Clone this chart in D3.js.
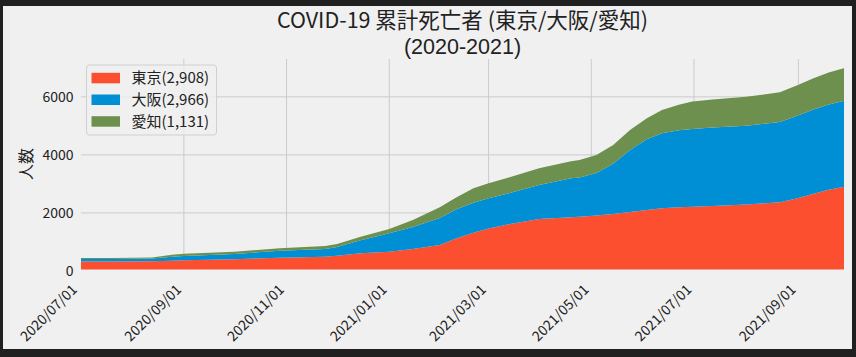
<!DOCTYPE html>
<html><head><meta charset="utf-8">
<script src="https://cdn.jsdelivr.net/npm/d3@7"></script>
<style>
html,body{margin:0;padding:0;background:#202020;}
svg{display:block;}
text{font-family:"Noto Sans CJK JP","Noto Sans",sans-serif;}
</style></head><body>
<svg id="chart" width="856" height="357"></svg>
<script>
// ---- data (cumulative deaths) ----
const dates = ["2020-07-01","2020-07-20","2020-08-13","2020-08-25","2020-09-01","2020-10-01","2020-10-28","2020-11-24","2020-12-01","2020-12-15","2021-01-01","2021-01-15","2021-01-31","2021-02-10","2021-02-20","2021-03-01","2021-03-13","2021-03-31","2021-04-19","2021-04-24","2021-05-04","2021-05-14","2021-05-24","2021-06-03","2021-06-12","2021-06-22","2021-06-30","2021-07-12","2021-08-01","2021-08-21","2021-08-31","2021-09-10","2021-09-19","2021-09-29"];
const tokyo = [325,327,335,355,370,405,458,493,525,609,665,758,896,1126,1320,1465,1610,1795,1855,1871,1915,1964,2030,2101,2160,2195,2215,2240,2290,2370,2500,2665,2800,2908];
const osaka = [86,86,95,135,145,180,241,265,300,448,632,759,928,1000,1033,1040,1067,1168,1338,1353,1460,1727,2137,2440,2586,2650,2680,2700,2715,2760,2840,2895,2935,2966];
const aichi = [34,35,36,68,75,78,83,103,105,125,150,240,370,413,496,517,545,575,590,600,620,650,690,720,800,880,945,965,1000,1025,1050,1080,1105,1131];
const seriesNames = ["東京","大阪","愛知"];
const seriesColors = ["#fc4f30","#008fd5","#6d904f"];
const xTickDates = ["2020-07-01","2020-09-01","2020-11-01","2021-01-01","2021-03-01","2021-05-01","2021-07-01","2021-09-01"];
const yTicks = [0,2000,4000,6000];
const titleLines = ["COVID-19 累計死亡者 (東京/大阪/愛知)","(2020-2021)"];
const yLabel = "人数";

// ---- layout ----
const W = 856, H = 357;
const L = 79.5, R = 845.5, T = 57.5, B = 271;
const parse = d3.timeParse("%Y-%m-%d");
const fmtTick = d3.timeFormat("%Y/%m/%d");

const rows = dates.map((d,i)=>({date:parse(d), "東京":tokyo[i], "大阪":osaka[i], "愛知":aichi[i]}));
const stack = d3.stack().keys(seriesNames)(rows);
const ymax = d3.max(stack[stack.length-1], d=>d[1]) * 1.05;

const x = d3.scaleTime().domain(d3.extent(rows, d=>d.date)).range([L, R]);
const y = d3.scaleLinear().domain([0, ymax]).range([B, T]);

const svg = d3.select("#chart");
svg.append("rect").attr("x",0).attr("y",0).attr("width",W).attr("height",H).attr("fill","#202020");
svg.append("rect").attr("x",3).attr("y",6).attr("width",849).attr("height",343).attr("fill","#f0f0f0");

svg.append("defs").append("clipPath").attr("id","clip")
  .append("rect").attr("x",L).attr("y",T).attr("width",R-L).attr("height",B-T);

// grid
const grid = svg.append("g");
grid.selectAll("line.v").data(xTickDates.map(parse)).join("line")
  .attr("x1",d=>x(d)).attr("x2",d=>x(d)).attr("y1",T).attr("y2",B)
  .attr("stroke","#cbcbcb").attr("stroke-width",1);
grid.selectAll("line.h").data(yTicks).join("line")
  .attr("x1",L).attr("x2",R).attr("y1",d=>y(d)).attr("y2",d=>y(d))
  .attr("stroke","#cbcbcb").attr("stroke-width",1);

// areas
const area = d3.area().x(d=>x(d.data.date)).y0(d=>y(d[0])).y1(d=>y(d[1]));
svg.append("g").attr("clip-path","url(#clip)")
  .selectAll("path").data(stack).join("path")
  .attr("d", area).attr("fill",(d,i)=>seriesColors[i]);

// spines (drawn in background colour, like the style)
svg.append("rect").attr("x",L).attr("y",T).attr("width",R-L).attr("height",B-T)
  .attr("fill","none").attr("stroke","#f0f0f0").attr("stroke-width",3);

// y tick labels
svg.append("g").selectAll("text").data(yTicks).join("text")
  .attr("x", L-6).attr("y", d=>y(d)).attr("dy","0.35em")
  .attr("text-anchor","end").attr("font-size",14).attr("fill","#222")
  .text(d=>d);

// x tick labels
svg.append("g").selectAll("text").data(xTickDates.map(parse)).join("text")
  .attr("transform", d=>`translate(${x(d)-9},283) rotate(-45)`)
  .attr("dy","0.75em").attr("text-anchor","end").attr("font-size",14).attr("fill","#222")
  .text(d=>fmtTick(d));

// y label
svg.append("text").attr("transform","translate(26,164) rotate(-90)")
  .attr("dy","0.35em").attr("text-anchor","middle").attr("font-size",16).attr("fill","#222")
  .text(yLabel);

// title (two lines)
const cx = (L+R)/2;
svg.append("text").attr("x",cx).attr("y",28).attr("text-anchor","middle")
  .attr("font-size",21.5).attr("fill","#222").text(titleLines[0]);
svg.append("text").attr("x",cx).attr("y",54).attr("text-anchor","middle")
  .style("font-family","'Liberation Sans',Arial,sans-serif")
  .attr("font-size",21.5).attr("fill","#222").text(titleLines[1]);

// legend
const fmtN = d3.format(",");
const lastVals = [tokyo[tokyo.length-1], osaka[osaka.length-1], aichi[aichi.length-1]];
const lg = svg.append("g");
lg.append("rect").attr("x",86.5).attr("y",65).attr("width",130).attr("height",70)
  .attr("rx",3).attr("fill","#f0f0f0").attr("fill-opacity",0.8).attr("stroke","#d0d0d0").attr("stroke-width",1);
seriesNames.forEach((n,i)=>{
  const cy = 78 + i*21.7;
  lg.append("rect").attr("x",91.5).attr("y",cy-5.2).attr("width",28.5).attr("height",10.5).attr("fill",seriesColors[i]);
  lg.append("text").attr("x",131.5).attr("y",cy).attr("dy","0.35em").attr("font-size",15).attr("fill","#222")
    .text(`${n}(${fmtN(lastVals[i])})`);
});
</script>
</body></html>
